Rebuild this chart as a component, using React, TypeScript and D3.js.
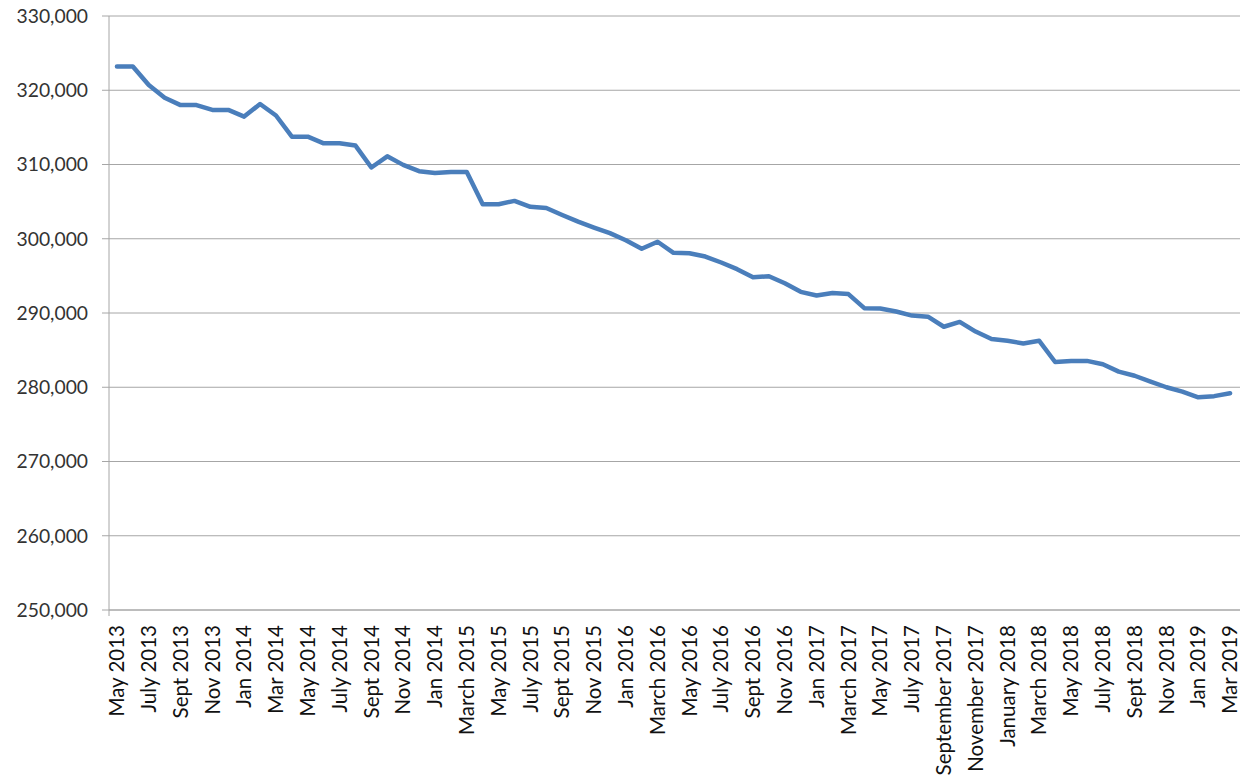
import React from 'react';
import * as d3 from 'd3';

// monthly values, May 2013 .. Mar 2019
const values: number[] = [
  323200, 323200, 320700, 319000, 318000, 318000, 317350, 317350,
  316450, 318150, 316600, 313750, 313750, 312850, 312850, 312550, 309600, 311100, 309950, 309100,
  308850, 309000, 309000, 304650, 304650, 305100, 304300, 304150, 303200, 302300, 301500, 300750,
  299800, 298650, 299600, 298100, 298050, 297600, 296800, 295900, 294800, 294950, 294000, 292850,
  292350, 292700, 292550, 290650, 290600, 290200, 289650, 289500, 288150, 288800, 287500, 286500,
  286250, 285900, 286250, 283400, 283550, 283550, 283100, 282100, 281550, 280750, 280000, 279400,
  278650, 278800, 279200,
];

// labels shown on every second month (as written in the source, incl. its "Jan 2014" slip)
const tickLabels: string[] = [
  'May 2013', 'July 2013', 'Sept 2013', 'Nov 2013', 'Jan 2014', 'Mar 2014',
  'May 2014', 'July 2014', 'Sept 2014', 'Nov 2014', 'Jan 2014', 'March 2015',
  'May 2015', 'July 2015', 'Sept 2015', 'Nov 2015', 'Jan 2016', 'March 2016',
  'May 2016', 'July 2016', 'Sept 2016', 'Nov 2016', 'Jan 2017', 'March 2017',
  'May 2017', 'July 2017', 'September 2017', 'November 2017', 'January 2018', 'March 2018',
  'May 2018', 'July 2018', 'Sept 2018', 'Nov 2018', 'Jan 2019', 'Mar 2019',
];

const yTicks: number[] = [250000, 260000, 270000, 280000, 290000, 300000, 310000, 320000, 330000];

const W = 1253;
const H = 783;
const left = 109;
const right = 1238;
const top = 16;
const bottom = 610;
const font = 'Lato, "Open Sans", sans-serif';

const App: React.FC = () => {
  const idx = d3.range(values.length);
  const x = d3.scaleBand<number>().domain(idx).range([left, right]);
  const cx = (i: number) => (x(i) ?? 0) + x.bandwidth() / 2;
  const y = d3.scaleLinear().domain([250000, 330000]).range([bottom, top]);
  const fmt = d3.format(',');

  const line = d3.line<number>()
    .x((_, i) => cx(i))
    .y(d => y(d));

  return (
    <svg width={W} height={H} style={{ position: 'absolute', left: 0, top: 0 }}>
      <rect width={W} height={H} fill="#fff" />
      {yTicks.map(t => (
        <g key={t}>
          <line x1={left - 7} x2={right + 2} y1={y(t)} y2={y(t)} stroke="#a6a6a6" strokeWidth={1} />
          <text x={88} y={y(t)} dy="0.35em" textAnchor="end" fontFamily={font} fontSize={19.3} fill="#333">
            {fmt(t)}
          </text>
        </g>
      ))}
      <line x1={left} x2={left} y1={top} y2={bottom + 6} stroke="#a6a6a6" strokeWidth={1} />
      <line x1={left} x2={right + 2} y1={bottom} y2={bottom} stroke="#a6a6a6" strokeWidth={1} />
      {tickLabels.map((lab, k) => {
        const i = k * 2;
        return (
          <text
            key={k}
            transform={`translate(${cx(i)},625) rotate(-90)`}
            dy="0.35em"
            textAnchor="end"
            fontFamily={font}
            fontSize={20.5}
            fill="#111"
          >
            {lab}
          </text>
        );
      })}
      <path d={line(values) ?? ''} fill="none" stroke="#4a7ebb" strokeWidth={4.5} strokeLinejoin="round" strokeLinecap="round" />
    </svg>
  );
};

export default App;
